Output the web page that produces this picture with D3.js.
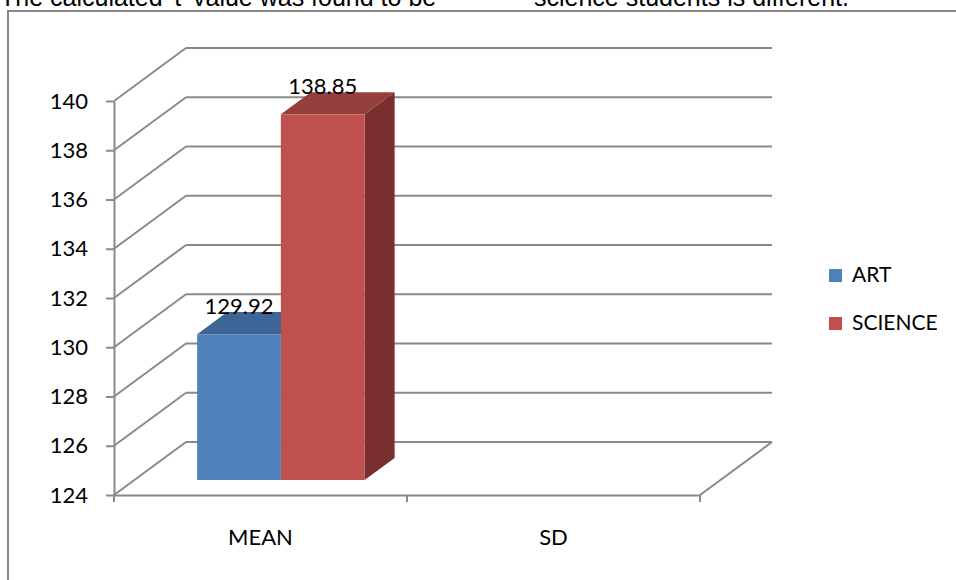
<!DOCTYPE html>
<html>
<head>
<meta charset="utf-8">
<script src="https://cdn.jsdelivr.net/npm/d3@7/dist/d3.min.js"></script>
<style>
  html, body { margin: 0; padding: 0; background: #fff; }
  svg { display: block; }
</style>
</head>
<body>
<svg id="chart" width="956" height="580"></svg>
<script>
// Chart data
const categories = ["MEAN", "SD"];
const seriesNames = ["ART", "SCIENCE"];
const artValues = [129.92, null];
const scienceValues = [138.85, null];
const yTicks = [124, 126, 128, 130, 132, 134, 136, 138, 140];
const introText = ["The calculated 't' value was found to be", "science students is different."];

// Styles
const faceColors = {
  ART: { front: "#4F81BD", top: "#3D6595", side: "#385D8A" },
  SCIENCE: { front: "#C0504D", top: "#953F3D", side: "#782F2D" }
};
const gridColor = "#8a8a8a";
const labelFont = "Lato, 'Open Sans', sans-serif";

const svg = d3.select("#chart");

// Sentence of surrounding text, clipped by the top edge
svg.append("text").attr("x", 0).attr("y", 6)
  .style("font-family", "'Liberation Sans', Arial, sans-serif").style("font-size", "25px")
  .text(introText[0]);
svg.append("text").attr("x", 534).attr("y", 6)
  .style("font-family", "'Liberation Sans', Arial, sans-serif").style("font-size", "25px")
  .text(introText[1]);

// Chart frame
svg.append("rect").attr("x", 8).attr("y", 11).attr("width", 1000).attr("height", 600)
  .attr("fill", "none").attr("stroke", "#878787").attr("stroke-width", 2);

// Scales
const y = d3.scaleLinear().domain([124, 140]).range([495, 101]);
const x = d3.scaleBand().domain(categories).range([114, 700]).paddingInner(0).paddingOuter(0);
const xs = d3.scaleBand().domain(seriesNames).range([0, x.bandwidth()]).paddingInner(0).paddingOuter(0.75);

// Oblique depth of the plot box
const DX = 72, DY = -53;
const f0 = 0.283, f1 = 0.70;   // bar front/back as fraction of depth

const grid = svg.append("g").attr("stroke", gridColor).attr("stroke-width", 2).attr("fill", "none");
const x0 = x.range()[0], x1 = x.range()[1];

// Side wall gridlines and back wall gridlines
yTicks.forEach(t => {
  grid.append("line").attr("x1", x0).attr("y1", y(t)).attr("x2", x0 + DX).attr("y2", y(t) + DY);
  grid.append("line").attr("x1", x0 + DX).attr("y1", y(t) + DY).attr("x2", x1 + DX).attr("y2", y(t) + DY);
});
// Floor right edge
grid.append("line").attr("x1", x1).attr("y1", y(124)).attr("x2", x1 + DX).attr("y2", y(124) + DY);

// Value axis
const yAxis = svg.append("g").attr("transform", `translate(${x0},0)`)
  .call(d3.axisLeft(y).tickValues(yTicks).tickSize(8).tickSizeOuter(0).tickPadding(18));
yAxis.select(".domain").attr("stroke", gridColor).attr("stroke-width", 2);
yAxis.selectAll(".tick line").attr("stroke", gridColor).attr("stroke-width", 2);
yAxis.selectAll(".tick text").attr("fill", "#000")
  .style("font-family", labelFont).style("font-size", "22px");

// Category axis
const xAxis = svg.append("g").attr("transform", `translate(0,${y(124)})`)
  .call(d3.axisBottom(x).tickSize(0).tickSizeOuter(0).tickPadding(34));
xAxis.select(".domain").attr("stroke", gridColor).attr("stroke-width", 2);
xAxis.selectAll(".tick text").attr("fill", "#000")
  .style("font-family", labelFont).style("font-size", "22px");
const boundaries = categories.map(c => x(c)).concat([x(categories[categories.length - 1]) + x.bandwidth()]);
xAxis.selectAll(".bound").data(boundaries).join("line").attr("class", "bound")
  .attr("x1", d => d).attr("x2", d => d).attr("y1", 0).attr("y2", 7)
  .attr("stroke", gridColor).attr("stroke-width", 2);

// Bars
const bars = [];
categories.forEach((c, i) => {
  [["ART", artValues[i]], ["SCIENCE", scienceValues[i]]].forEach(([s, v]) => {
    if (v != null) bars.push({ cat: c, series: s, value: v });
  });
});

const bdx = DX * (f1 - f0), bdy = DY * (f1 - f0);
const barG = svg.append("g");
bars.forEach(b => {
  const bx0 = x(b.cat) + xs(b.series) + DX * f0;
  const bx1 = bx0 + xs.bandwidth();
  const yTop = y(b.value) + DY * f0;
  const yBase = y(124) + DY * f0;
  const col = faceColors[b.series];
  const g = barG.append("g");
  g.append("polygon").attr("fill", col.side)
    .attr("points", [[bx1, yTop], [bx1 + bdx, yTop + bdy], [bx1 + bdx, yBase + bdy], [bx1, yBase]].join(" "));
  g.append("polygon").attr("fill", col.top)
    .attr("points", [[bx0, yTop], [bx1, yTop], [bx1 + bdx, yTop + bdy], [bx0 + bdx, yTop + bdy]].join(" "));
  g.append("rect").attr("fill", col.front)
    .attr("x", bx0).attr("y", yTop).attr("width", bx1 - bx0).attr("height", yBase - yTop);
  svg.append("text").attr("x", (bx0 + bx1) / 2).attr("y", yTop - 20)
    .attr("text-anchor", "middle").attr("fill", "#000")
    .style("font-family", labelFont).style("font-size", "22px")
    .text(d3.format(".2f")(b.value));
});

// Legend
const legend = svg.append("g").attr("transform", "translate(829,269)");
seriesNames.forEach((s, i) => {
  const row = legend.append("g").attr("transform", `translate(0,${i * 48})`);
  row.append("rect").attr("width", 13).attr("height", 13).attr("fill", faceColors[s].front);
  row.append("text").attr("x", 23).attr("y", 13).attr("fill", "#000")
    .style("font-family", labelFont).style("font-size", "21px").text(s);
});
</script>
</body>
</html>
